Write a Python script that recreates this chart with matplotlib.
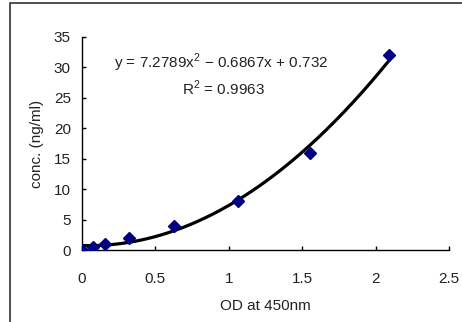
import numpy as np
import matplotlib
matplotlib.use('Agg')
import matplotlib.pyplot as plt
from matplotlib.patches import Rectangle

plt.rcParams['font.family'] = ['Liberation Sans', 'DejaVu Sans']

# standard curve points
od = [0.0, 0.073, 0.157, 0.32, 0.627, 1.065, 1.55, 2.09]
conc = [0.0, 0.5, 1.0, 2.0, 4.0, 8.0, 16.0, 32.0]

# polynomial trendline shown on the chart
coef = [7.2789, -0.6867, 0.732]
eq_text = 'y = 7.2789x$^2$ − 0.6867x + 0.732'
r2_text = 'R$^2$ = 0.9963'

xticks = [0, 0.5, 1, 1.5, 2, 2.5]
xtick_labels = ['0', '0.5', '1', '1.5', '2', '2.5']
yticks = [0, 5, 10, 15, 20, 25, 30, 35]

plt.rcParams['mathtext.fontset'] = 'custom'
plt.rcParams['mathtext.rm'] = 'Liberation Sans'

txt = '#222222'
fig = plt.figure(figsize=(4.62, 3.22), dpi=100)
fig.patches.append(Rectangle((10 / 462, -0.1), 1.2, 1.1 - 3 / 322,
                             transform=fig.transFigure, fill=False,
                             edgecolor='#333333', linewidth=1.2))
ax = fig.add_axes([82 / 462, 1 - 250 / 322, 367 / 462, 213 / 322])

xs = np.linspace(min(od), max(od), 200)
ax.plot(xs, np.polyval(coef, xs), color='black', linewidth=2.3, zorder=2)
ax.plot(od, conc, linestyle='none', marker='D', markersize=6.5,
        color='#000080', zorder=3)

ax.set_xlim(0, 2.5)
ax.set_ylim(0, 35)
ax.set_xticks(xticks)
ax.set_xticklabels(xtick_labels)
ax.set_yticks(yticks)
for s in ['top', 'right']:
    ax.spines[s].set_visible(False)
for s in ['left', 'bottom']:
    ax.spines[s].set_linewidth(1.0)
ax.tick_params(axis='both', direction='in', length=3, width=1, labelsize=11,
               labelcolor=txt)
ax.tick_params(axis='x', pad=16)
ax.tick_params(axis='y', pad=8)

ax.set_xlabel('OD at 450nm', fontsize=11, labelpad=9, color=txt)
ax.set_ylabel('conc. (ng/ml)', fontsize=11, labelpad=7, color=txt)

ax.text(0.38, 0.88, eq_text, transform=ax.transAxes, ha='center', va='center',
        fontsize=11, color=txt)
ax.text(0.385, 0.76, r2_text, transform=ax.transAxes, ha='center', va='center',
        fontsize=11, color=txt)

fig.savefig('out.png', dpi=100)
